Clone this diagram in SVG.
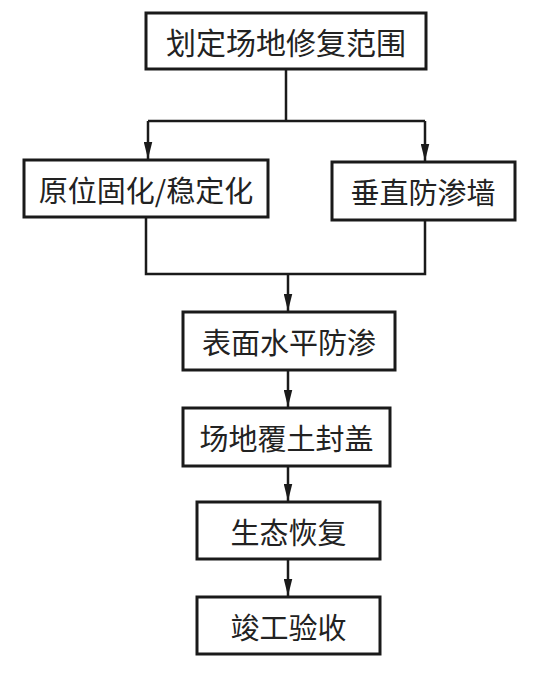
<svg xmlns="http://www.w3.org/2000/svg" width="544" height="697" viewBox="0 0 544 697">
<defs>
<style>
.box{fill:#fff;stroke:#1a1a1a;stroke-width:3}
.t{font-family:"Noto Sans CJK SC","Liberation Serif",serif;font-size:29px;fill:#222;text-anchor:middle;dominant-baseline:central}
.c{fill:none;stroke:#1a1a1a;stroke-width:2.5}
</style>
<marker id="a" viewBox="0 0 20 10" refX="20" refY="5" markerWidth="6.8" markerHeight="3.6" markerUnits="strokeWidth" orient="auto">
<path d="M0,0 L20,5 L0,10 z" fill="#1a1a1a"/>
</marker>
</defs>
<rect width="544" height="697" fill="#fff"/>
<g id="connectors">
<path class="c" d="M286,69 V121"/>
<path class="c" d="M148,121 H425"/>
<path class="c" d="M148,121 V159" marker-end="url(#a)"/>
<path class="c" d="M425,121 V161" marker-end="url(#a)"/>
<path class="c" d="M146,217 V274 H425 V220"/>
<path class="c" d="M288,274 V311" marker-end="url(#a)"/>
<path class="c" d="M288,370 V407" marker-end="url(#a)"/>
<path class="c" d="M288,466 V501" marker-end="url(#a)"/>
<path class="c" d="M288,559 V596" marker-end="url(#a)"/>
</g>
<g id="n1"><rect class="box" x="146" y="13" width="280" height="56"/><text class="t" x="286" y="41" style="font-size:30px">划定场地修复范围</text></g>
<g id="n2"><rect class="box" x="24" y="160" width="244" height="57"/><text class="t" x="146" y="188.5">原位固化/稳定化</text></g>
<g id="n3"><rect class="box" x="332" y="162" width="183" height="58"/><text class="t" x="423" y="191">垂直防渗墙</text></g>
<g id="n4"><rect class="box" x="183" y="312" width="212" height="58"/><text class="t" x="289" y="341">表面水平防渗</text></g>
<g id="n5"><rect class="box" x="183" y="408" width="207" height="58"/><text class="t" x="286.5" y="437">场地覆土封盖</text></g>
<g id="n6"><rect class="box" x="197" y="502" width="183" height="57"/><text class="t" x="288.5" y="530.5">生态恢复</text></g>
<g id="n7"><rect class="box" x="197" y="597" width="183" height="57"/><text class="t" x="288.5" y="625.5">竣工验收</text></g>
</svg>
